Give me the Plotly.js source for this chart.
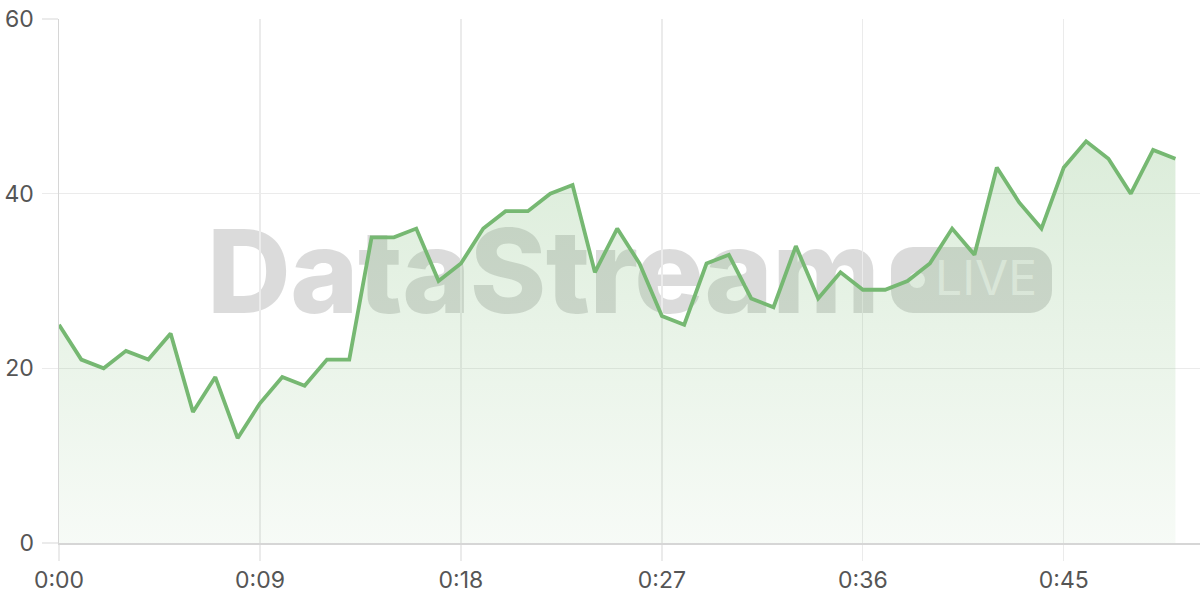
<!DOCTYPE html>
<html>
<head>
<meta charset="utf-8">
<script src="https://cdn.plot.ly/plotly-3.0.1.min.js"></script>
<style>
  html, body { margin: 0; padding: 0; background: #fff; }
  .wrap { position: relative; width: 1200px; height: 600px; overflow: hidden; }
  .watermark { position: absolute; left: 0; top: 0; width: 1200px; height: 600px; z-index: 0; }
  .wm-title {
    position: absolute; left: 207px; top: 213px;
    font-family: Inter, "Noto Sans", sans-serif; font-weight: 800; font-size: 116px;
    letter-spacing: -0.6px; color: rgba(0, 0, 0, 0.14); line-height: 1;
  }
  .wm-pill {
    position: absolute; left: 891px; top: 247px; width: 161px; height: 66px;
    border-radius: 22px; background: rgba(0, 0, 0, 0.14);
  }
  .wm-dot {
    position: absolute; left: 909px; top: 272px; width: 16px; height: 16px;
    border-radius: 50%; background: rgba(255, 255, 255, 0.75);
  }
  .wm-live {
    position: absolute; left: 935px; top: 252px;
    font-family: Inter, "Noto Sans", sans-serif; font-weight: 400; font-size: 48px;
    color: rgba(255, 255, 255, 0.6); line-height: 1.1;
  }
  .chart { position: absolute; left: 0; top: 0; width: 1200px; height: 600px; z-index: 1; }
</style>
</head>
<body>
<div class="wrap">
  <div class="watermark">
    <div class="wm-title">DataStream</div>
    <div class="wm-pill"></div>
    <div class="wm-dot"></div>
    <div class="wm-live">LIVE</div>
  </div>
  <div class="chart" id="chart"></div>
</div>
<script>
// Seconds since start, one sample per second.
const seconds = [
  0, 1, 2, 3, 4, 5, 6, 7, 8, 9, 10, 11, 12, 13, 14, 15, 16, 17, 18, 19, 20,
  21, 22, 23, 24, 25, 26, 27, 28, 29, 30, 31, 32, 33, 34, 35, 36, 37, 38, 39, 40,
  41, 42, 43, 44, 45, 46, 47, 48, 49, 50
];
const streamValues = [
  25, 21, 20, 22, 21, 24, 15, 19, 12, 16, 19, 18, 21, 21, 35, 35, 36, 30, 32, 36, 38,
  38, 40, 41, 31, 36, 32, 26, 25, 32, 33, 28, 27, 34, 28, 31, 29, 29, 30, 32, 36,
  33, 43, 39, 36, 43, 46, 44, 40, 45, 44
];
const xTickVals = [0, 9, 18, 27, 36, 45];
const xTickText = ['0:00', '0:09', '0:18', '0:27', '0:36', '0:45'];
const yTickVals = [0, 20, 40, 60];

const trace = {
  x: seconds, y: streamValues,
  type: 'scatter', mode: 'lines',
  line: { color: '#76b872', width: 3.8 },
  fill: 'tozeroy',
  fillgradient: {
    type: 'vertical',
    colorscale: [[0, 'rgba(118,184,112,0.06)'], [1, 'rgba(118,184,112,0.26)']]
  },
  hoverinfo: 'skip'
};

const axisFont = { family: 'Inter, "Liberation Sans", sans-serif', size: 23, color: '#555' };

const layout = {
  width: 1200, height: 600,
  margin: { l: 59, r: 0, t: 19, b: 57 },
  paper_bgcolor: 'rgba(0,0,0,0)', plot_bgcolor: 'rgba(0,0,0,0)',
  showlegend: false,
  xaxis: {
    range: [0, 51.1], tickvals: xTickVals, ticktext: xTickText,
    showgrid: true, gridcolor: '#ebebeb', gridwidth: 1.3,
    ticks: 'outside', ticklen: 16, tickcolor: '#ebebeb', tickwidth: 1.3,
    showline: true, linecolor: '#d6d6d6', linewidth: 1.5,
    zeroline: false, tickfont: axisFont
  },
  yaxis: {
    range: [0, 60], tickvals: yTickVals,
    showgrid: true, gridcolor: '#ebebeb', gridwidth: 1.3,
    ticks: 'outside', ticklen: 16, tickcolor: '#ebebeb', tickwidth: 1.3,
    ticklabelstandoff: 3,
    showline: true, linecolor: '#d6d6d6', linewidth: 1.5,
    zeroline: false, tickfont: axisFont
  }
};

Plotly.newPlot('chart', [trace], layout, { staticPlot: true, displayModeBar: false });
</script>
</body>
</html>
